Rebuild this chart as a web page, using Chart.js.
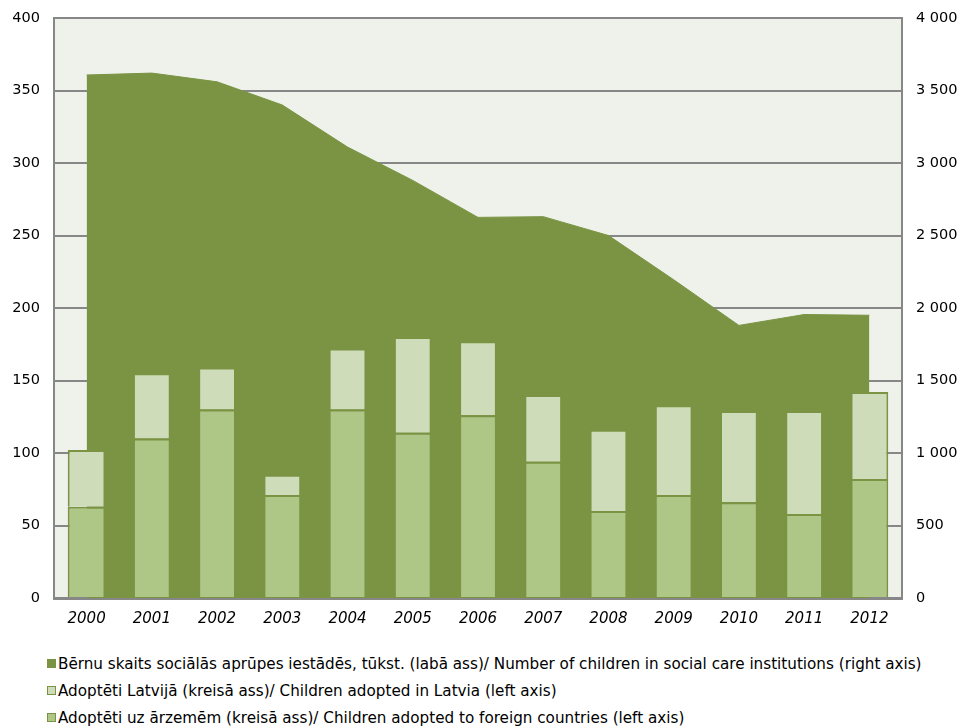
<!DOCTYPE html>
<html>
<head>
<meta charset="utf-8">
<script src="https://cdn.jsdelivr.net/npm/chart.js@4/dist/chart.umd.min.js"></script>
<style>
  html, body { margin: 0; padding: 0; background: #fff; }
  #wrap { position: relative; width: 964px; height: 640px; }
  #legend { position: absolute; left: 47px; top: 650px; font-family: "DejaVu Sans", Verdana, sans-serif; font-size: 15.2px; color: #000; }
  #legend div { height: 27px; display: flex; align-items: center; }
  #legend span.sq { display: inline-block; width: 7px; height: 7px; margin-right: 2px; border: 1px solid #7a9444; }
</style>
</head>
<body>
<div id="wrap"><canvas id="chart" width="964" height="640"></canvas></div>
<div id="legend"></div>
<script>
// -------------------- Data --------------------
const years = ['2000', '2001', '2002', '2003', '2004', '2005', '2006', '2007', '2008', '2009', '2010', '2011', '2012'];
const childrenInCare = [3607, 3620, 3560, 3400, 3110, 2880, 2625, 2630, 2500, 2195, 1880, 1955, 1950];
const adoptedLatvia = [39, 45, 29, 14, 42, 66, 51, 46, 56, 62, 63, 71, 60];
const adoptedForeign = [63, 110, 130, 71, 130, 114, 126, 94, 60, 71, 66, 58, 82];

const labelCare = 'Bērnu skaits sociālās aprūpes iestādēs, tūkst. (labā ass)/ Number of children in social care institutions (right axis)';
const labelLatvia = 'Adoptēti Latvijā (kreisā ass)/ Children adopted in Latvia (left axis)';
const labelForeign = 'Adoptēti uz ārzemēm (kreisā ass)/ Children adopted to foreign countries (left axis)';

const darkGreen = '#7a9444';
const lightGreen = '#cfdcb9';
const midGreen = '#aec787';
const axisGrey = '#878787';

// plot background behind everything
const plotBg = {
    id: 'plotBg',
    beforeDraw(chart) {
        const a = chart.chartArea;
        const ctx = chart.ctx;
        ctx.save();
        ctx.fillStyle = '#eff2ea';
        ctx.fillRect(a.left, a.top, a.right - a.left, a.bottom - a.top);
        ctx.restore();
    }
};

const tickFont = { family: '"DejaVu Sans", Verdana, sans-serif', size: 14.5 };
const spaced = v => String(v).replace(/\B(?=(\d{3})+(?!\d))/g, ' ');

// fixed axis box, no label overflow padding
const fitY = w => s => { s.width = w; s.paddingTop = 0; s.paddingBottom = 0; };

new Chart(document.getElementById('chart'), {
    data: {
        labels: years,
        datasets: [
            {
                type: 'bar',
                label: labelForeign,
                data: adoptedForeign,
                backgroundColor: midGreen,
                borderColor: darkGreen,
                borderWidth: 2,
                yAxisID: 'y',
                stack: 'adopt',
                order: 1
            },
            {
                type: 'bar',
                label: labelLatvia,
                data: adoptedLatvia,
                backgroundColor: lightGreen,
                borderColor: darkGreen,
                borderWidth: 2,
                yAxisID: 'y',
                stack: 'adopt',
                order: 1
            },
            {
                type: 'line',
                label: labelCare,
                data: childrenInCare,
                backgroundColor: darkGreen,
                borderColor: darkGreen,
                borderWidth: 1,
                fill: 'origin',
                pointRadius: 0,
                tension: 0,
                yAxisID: 'y2',
                order: 2
            }
        ]
    },
    options: {
        responsive: false,
        animation: false,
        layout: { padding: { top: 18, left: 0, right: 0, bottom: 0 } },
        datasets: { bar: { categoryPercentage: 1, barPercentage: 0.58 } },
        plugins: {
            legend: { display: false },
            tooltip: { enabled: false }
        },
        scales: {
            x: {
                stacked: true,
                grid: { display: false, drawTicks: false },
                border: { color: axisGrey, width: 3 },
                ticks: { color: '#000', font: { ...tickFont, size: 15, style: 'italic' }, padding: 12 },
                afterFit: s => { s.height = 42; s.paddingLeft = 0; s.paddingRight = 0; }
            },
            y: {
                stacked: true,
                min: 0,
                max: 400,
                ticks: { stepSize: 50, color: '#000', font: tickFont, padding: 14 },
                grid: { color: axisGrey, lineWidth: 2, drawTicks: false },
                border: { color: axisGrey, width: 2 },
                afterFit: fitY(54)
            },
            y2: {
                position: 'right',
                min: 0,
                max: 4000,
                ticks: { stepSize: 500, color: '#000', font: tickFont, padding: 14, callback: v => spaced(v) },
                grid: { drawOnChartArea: false, drawTicks: false },
                border: { color: axisGrey, width: 2 },
                afterFit: fitY(62)
            }
        }
    },
    plugins: [plotBg]
});

// -------------------- Legend --------------------
const legendItems = [
    { text: labelCare, fill: darkGreen },
    { text: labelLatvia, fill: lightGreen },
    { text: labelForeign, fill: midGreen }
];
document.getElementById('legend').innerHTML = legendItems.map(item =>
    `<div><span class="sq" style="background:${item.fill}"></span>${item.text}</div>`
).join('');
</script>
</body>
</html>
